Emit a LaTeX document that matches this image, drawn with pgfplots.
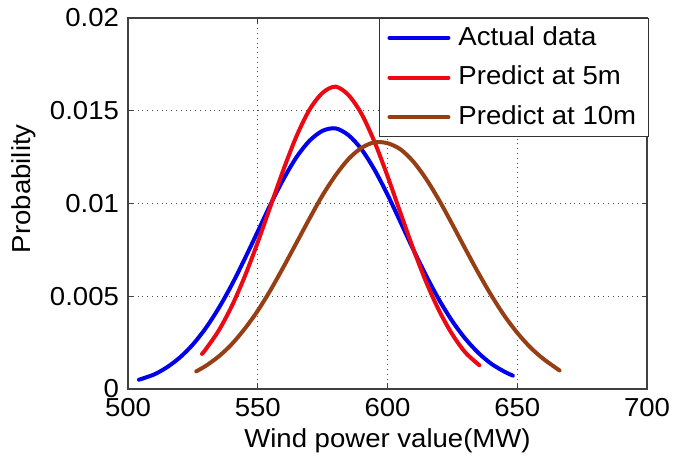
\documentclass[border=0pt]{standalone}
\usepackage{fontspec}
\setmainfont{Liberation Sans}[FakeStretch=1.06]
\usepackage{pgfplots}
\pgfplotsset{compat=1.18}
\definecolor{cblue}{RGB}{0,0,235}
\definecolor{cred}{RGB}{235,10,20}
\definecolor{cbrown}{RGB}{150,62,20}

% actual data
\pgfplotstableread{
x y
504.2 0.00050
510 0.00078
515 0.00117
520 0.00170
525 0.00240
530 0.00329
535 0.00437
540 0.00562
545 0.00702
550 0.00849
555 0.00997
560 0.01134
565 0.01251
570 0.01339
575 0.01392
580 0.01405
585 0.01368
590 0.01292
595 0.01182
600 0.01048
605 0.00900
610 0.00750
615 0.00608
620 0.00478
625 0.00365
630 0.00271
635 0.00195
640 0.00136
645 0.00094
648.3 0.00072
}\actual

% predict at 5m
\pgfplotstableread{
x y
528.5 0.00189
530 0.00215
535 0.00316
540 0.00447
545 0.00607
550 0.00791
555 0.00989
560 0.01186
565 0.01365
570 0.01507
575 0.01597
580 0.01630
585 0.01584
590 0.01483
595 0.01332
600 0.01148
605 0.00949
610 0.00753
615 0.00573
620 0.00419
625 0.00294
630 0.00197
635.4 0.00128
}\fivemin

% predict at 10m
\pgfplotstableread{
x y
526.3 0.00095
530 0.00125
535 0.00176
540 0.00242
545 0.00325
550 0.00422
555 0.00535
560 0.00660
565 0.00790
570 0.00920
575 0.01045
580 0.01152
585 0.01240
590 0.01300
595 0.01330
600 0.01325
605 0.01292
610 0.01225
615 0.01130
620 0.01015
625 0.00887
630 0.00755
635 0.00626
640 0.00505
645 0.00396
650 0.00303
655 0.00225
660 0.00163
666.3 0.00100
}\tenmin

\begin{document}
\fontsize{13}{15}\selectfont
\begin{tikzpicture}
\begin{axis}[
    at={(0,0)}, anchor=south west,
    scale only axis, width=259.5pt, height=185.5pt,
    xmin=500, xmax=700, ymin=0, ymax=0.02,
    scaled x ticks=false, scaled y ticks=false,
    xtick={500,550,600,650,700},
    ytick={0,0.005,0.01,0.015,0.02},
    xticklabels={500,550,600,650,700},
    yticklabels={0,0.005,0.01,0.015,0.02},
    tick align=inside, major tick length=2.5pt,
    tick style={black!75, line width=0.5pt},
    axis line style={black!75, line width=0.6pt},
    grid=major,
    major grid style={dotted, black!70, line width=0.6pt},
    xlabel={Wind power value(MW)},
    ylabel={Probability},
    xlabel style={at={(axis description cs:0.5,-0.14)}, anchor=center},
    ylabel style={at={(axis description cs:-0.2,0.54)}, anchor=center},
    legend style={at={(1.003,1)}, anchor=north east, draw=black!80,
        fill=white, inner xsep=4pt, inner ysep=2pt, row sep=4.5pt,
        font=\fontsize{13}{15}\selectfont},
    legend cell align=left,
    /tikz/every odd column/.append style={column sep=2pt},
    legend image code/.code={\draw[#1] (0pt,0pt) -- (29.5pt,0pt);},
]
\addplot[cblue, line width=2pt, line cap=round, smooth] table {\actual};
\addlegendentry{Actual data}
\addplot[cred, line width=2pt, line cap=round, smooth] table {\fivemin};
\addlegendentry{Predict at 5m}
\addplot[cbrown, line width=2pt, line cap=round, smooth] table {\tenmin};
\addlegendentry{Predict at 10m}
\end{axis}
\pgfresetboundingbox
\path[use as bounding box] (-64pt,-35.65pt) rectangle (278.5pt,194.5pt);
\end{tikzpicture}
\end{document}
